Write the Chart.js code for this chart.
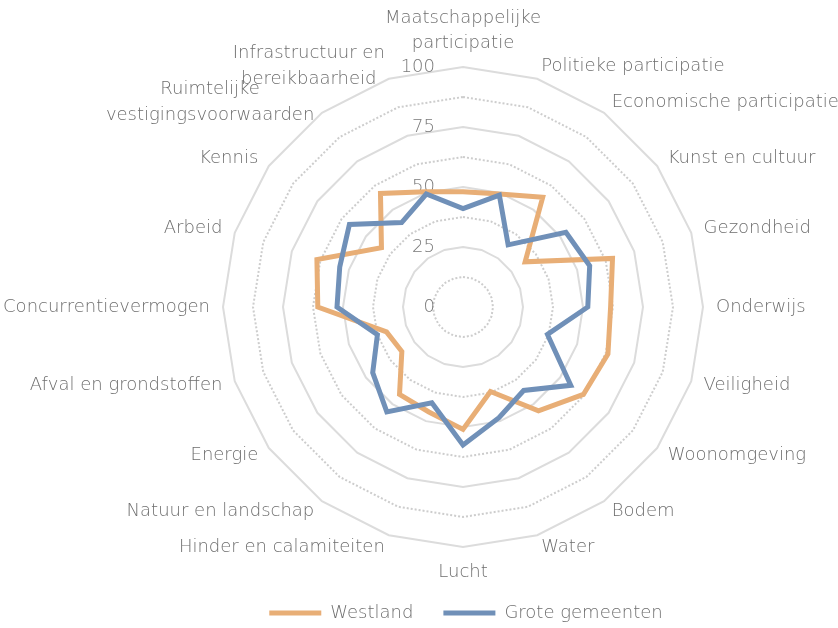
<!DOCTYPE html>
<html>
<head>
<meta charset="utf-8">
<script src="https://cdn.jsdelivr.net/npm/chart.js@4"></script>
<style>
html,body{margin:0;padding:0;background:#fff;overflow:hidden}
#wrap{width:838px;height:628px;position:relative}
</style>
</head>
<body>
<div id="wrap"><canvas id="c" width="838" height="628"></canvas></div>
<script>
const categories = [
  ['Maatschappelijke', 'participatie'],
  'Politieke participatie',
  'Economische participatie',
  'Kunst en cultuur',
  'Gezondheid',
  'Onderwijs',
  'Veiligheid',
  'Woonomgeving',
  'Bodem',
  'Water',
  'Lucht',
  'Hinder en calamiteiten',
  'Natuur en landschap',
  'Energie',
  'Afval en grondstoffen',
  'Concurrentievermogen',
  'Arbeid',
  'Kennis',
  ['Ruimtelijke', 'vestigingsvoorwaarden'],
  ['Infrastructuur en', 'bereikbaarheid']
];
const seriesNames = ['Westland', 'Grote gemeenten'];
const westland = [48, 49.5, 56.5, 32, 65.5, 61.5, 63.5, 62, 53.5, 37, 51, 46, 45, 31.5, 33.5, 60.5, 64, 42, 58.5, 50.5];
const groteGemeenten = [41, 49, 32, 53, 55.5, 52, 37, 55.5, 43, 48.5, 57.5, 42, 54, 46.5, 37.5, 52.5, 54, 58.5, 43.5, 49.5];
const tickLabels = [0, 25, 50, 75, 100];

const FONT = '"DejaVu Sans", sans-serif';
const WEIGHT = 200;
const TEXT = '#6e6e6e';
const ORANGE = '#E8AE76';
const BLUE = '#7090B8';
const CX = 463, CY = 307, R = 240, PAD = 13;

function fixLayout(scale) {
  scale.xCenter = CX;
  scale.yCenter = CY;
  scale.drawingArea = R;
  const items = scale._pointLabelItems;
  if (!items) return;
  const n = items.length;
  items.forEach((it, i) => {
    const w = it.right - it.left, h = it.bottom - it.top;
    const p = scale.getPointPosition(i, R + PAD);
    const deg = Math.round(i * 360 / n) % 360;
    const align = (deg === 0 || deg === 180) ? 'center' : (deg < 180 ? 'left' : 'right');
    const left = align === 'center' ? p.x - w / 2 : (align === 'left' ? p.x : p.x - w);
    const top = deg === 0 ? p.y - h + 2 : (deg === 180 ? p.y : p.y - h / 2);
    const multi = Array.isArray(scale._pointLabels[i]);
    it.textAlign = multi ? 'center' : align;
    it.x = multi ? left + w / 2 : p.x;
    it.left = left; it.right = left + w;
    it.top = top; it.bottom = top + h; it.y = top;
  });
}

const tickLabelPlugin = {
  id: 'tickLabelPlugin',
  beforeDatasetsDraw(chart) {
    const s = chart.scales.r;
    const ctx = chart.ctx;
    ctx.save();
    ctx.font = WEIGHT + ' 18px ' + FONT;
    ctx.fillStyle = '#7a7a7a';
    ctx.textAlign = 'right';
    ctx.textBaseline = 'middle';
    tickLabels.forEach(v => {
      ctx.fillText(String(v), s.xCenter - 28, s.yCenter - s.getDistanceFromCenterForValue(v));
    });
    ctx.restore();
  }
};

new Chart(document.getElementById('c'), {
  type: 'radar',
  data: {
    labels: categories,
    datasets: [
      { label: seriesNames[0], data: westland, borderColor: ORANGE, backgroundColor: ORANGE,
        borderWidth: 5, pointRadius: 0, pointHoverRadius: 0, fill: false, tension: 0, order: 1, clip: false },
      { label: seriesNames[1], data: groteGemeenten, borderColor: BLUE, backgroundColor: BLUE,
        borderWidth: 5, pointRadius: 0, pointHoverRadius: 0, fill: false, tension: 0, order: 0, clip: false }
    ]
  },
  options: {
    responsive: false,
    devicePixelRatio: 1,
    animation: false,
    layout: { padding: { bottom: -4, left: 94 } },
    plugins: {
      legend: {
        position: 'bottom',
        labels: {
          boxWidth: 52, boxHeight: 5, padding: 30, color: TEXT,
          font: { family: FONT, size: 18, weight: WEIGHT },
          sort: (a, b) => a.datasetIndex - b.datasetIndex,
          generateLabels(chart) {
            return Chart.defaults.plugins.legend.labels.generateLabels(chart)
              .map(l => Object.assign(l, { fillStyle: l.strokeStyle, lineWidth: 0 }));
          }
        }
      },
      tooltip: { enabled: false }
    },
    scales: {
      r: {
        min: 0, max: 100,
        ticks: { display: false, stepSize: 12.5 },
        angleLines: { display: false },
        grid: {
          lineWidth: 2,
          color: c => (c.tick && c.tick.value % 25 !== 0) ? '#cdcdcd' : '#dcdcdc'
        },
        border: {
          dash: c => (c.tick && c.tick.value % 25 !== 0) ? [2, 2] : []
        },
        pointLabels: {
          color: TEXT,
          padding: PAD,
          font: { family: FONT, size: 18, weight: WEIGHT, lineHeight: 1.4 }
        },
        afterFit: fixLayout
      }
    }
  },
  plugins: [tickLabelPlugin]
});
</script>
</body>
</html>
